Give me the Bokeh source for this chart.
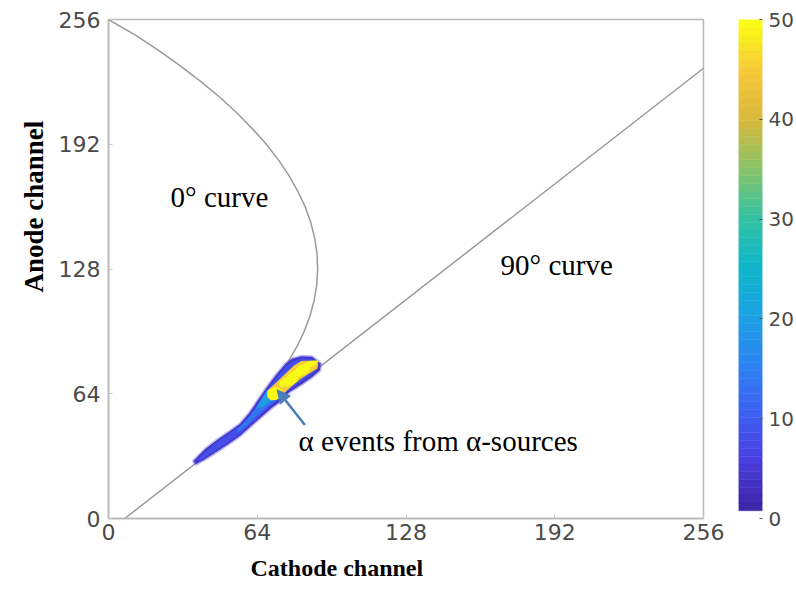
from bokeh.plotting import figure
from bokeh.layouts import row
from bokeh.models import (Range1d, LinearColorMapper, FixedTicker, Arrow, NormalHead,
                          ColumnDataSource, Title)
from bokeh.core.properties import value
from bokeh.embed import file_html
from bokeh.resources import INLINE

# ---------------- data ----------------
x_ticks = [0, 64, 128, 192, 256]
y_ticks = [0, 64, 128, 192, 256]
cbar_ticks = [0, 10, 20, 30, 40, 50]
count_low, count_high = 0, 50

# 0 degree curve (cathode, anode)
curve0_x = [0.0, 11.6, 21.7, 31.2, 39.9, 48.0, 55.3, 61.9, 67.9, 73.1, 77.6, 81.4,
            84.6, 87.0, 88.7, 89.7, 90.0, 89.6, 88.5, 86.7, 84.2, 81.0, 77.1, 72.5]
curve0_y = [256, 248, 240, 232, 224, 216, 208, 200, 192, 184, 176, 168,
            160, 152, 144, 136, 128, 120, 112, 104, 96, 88, 80, 72]

# 90 degree curve
curve90_x = [7.0, 256.0]
curve90_y = [0.0, 231.0]

# 2-D histogram of alpha events: iso-count regions (count level, outline)
outer_x = [36.5, 41.5, 47.0, 52.5, 56.5, 60.5, 64.5, 67.6, 71.9, 76.2, 79.0, 83.0, 87.6, 91.3,
           91.0, 87.5, 83.3, 77.6, 74.5, 70.0, 64.0, 56.8, 51.8, 46.0, 41.0, 37.5]
outer_y = [29.5, 35.5, 40.5, 45.0, 48.5, 54.0, 61.0, 66.5, 73.4, 79.4, 82.0, 83.2, 83.0, 79.5,
           76.0, 72.5, 69.0, 64.6, 60.5, 56.5, 50.3, 42.6, 38.4, 33.8, 30.0, 27.8]
inner_x = [38.5, 42.5, 47.5, 52.8, 57.0, 61.0, 65.0, 68.0, 72.3, 76.5, 79.3, 83.0, 87.3, 90.0,
           89.8, 87.0, 83.0, 77.4, 74.0, 69.8, 64.0, 57.0, 52.0, 46.3, 41.5, 39.0]
inner_y = [30.0, 35.2, 39.9, 44.2, 47.8, 53.3, 60.3, 65.5, 72.3, 78.2, 80.8, 81.9, 81.8, 79.3,
           76.8, 73.6, 70.2, 65.9, 61.8, 57.8, 51.6, 44.0, 39.7, 35.0, 31.3, 29.5]
mid_x = [56.0, 60.5, 64.0, 66.5, 68.5, 71.0, 73.5, 73.5, 69.5, 64.0, 58.5, 55.0]
mid_y = [46.5, 52.0, 57.5, 62.5, 66.0, 67.5, 64.5, 61.5, 58.5, 52.8, 46.5, 44.0]
light_x = [63.5, 66.0, 68.0, 70.0, 71.5, 70.0, 66.0]
light_y = [56.5, 61.5, 65.5, 66.5, 64.0, 60.5, 57.0]
yellow_x = [68.5, 68.3, 70.5, 73.3, 76.5, 79.8, 83.0, 88.0, 90.3,
            89.8, 86.5, 82.5, 78.5, 74.8, 72.5, 70.0]
yellow_y = [62.0, 65.5, 68.0, 71.0, 74.8, 78.5, 80.8, 81.0, 79.3,
            76.8, 74.5, 71.5, 67.5, 63.5, 61.0, 60.5]
region_levels = [4, 8, 14, 20, 45]

# saturated peaks of the alpha sources
peak_x = [85.4, 81.9, 77.5, 71.5]
peak_y = [78.5, 74.7, 70.4, 64.0]
peak_w = [10.5, 10.5, 9.0, 6.5]
peak_h = [3.0, 4.0, 4.6, 6.3]
peak_levels = [50, 50, 50, 50]

# annotations
label_text = ["0\u00b0 curve", "90\u00b0 curve", "\u03b1 events from \u03b1-sources"]
label_x = [26.7, 168.7, 81.8]
label_y = [164.7, 129.8, 40.0]
arrow_start = (84.5, 48.0)
arrow_end = (72.6, 66.0)

# ---------------- colour map (parula-like, white at zero) ----------------
anchors = ["#3e26a8", "#4a40e0", "#3c62f2", "#2b84f2", "#1ca2e2", "#0fb6c8",
           "#35c2a2", "#8ac46a", "#d8b83c", "#f6c83a", "#f9fb14"]


def _hex(c):
    return tuple(int(c[i:i + 2], 16) for i in (1, 3, 5))


palette = ["#ffffff"]
n = 63
for i in range(n):
    t = i / (n - 1) * (len(anchors) - 1)
    k = min(int(t), len(anchors) - 2)
    f = t - k
    a, b = _hex(anchors[k]), _hex(anchors[k + 1])
    palette.append("#%02x%02x%02x" % tuple(round(a[j] + (b[j] - a[j]) * f) for j in range(3)))

mapper = LinearColorMapper(palette=palette, low=count_low, high=count_high)

FRAME = "#b8b8b8"
TICKFONT = "DejaVu Sans"
TICKCOLOR = "#4a4a4a"

# ---------------- main figure ----------------
p = figure(width=727, height=601, x_range=Range1d(0, 256), y_range=Range1d(0, 256),
           output_backend="svg", toolbar_location=None,
           min_border_left=108, min_border_right=24, min_border_top=19, min_border_bottom=83)
p.background_fill_color = "white"
p.border_fill_color = "white"
p.xgrid.visible = False
p.ygrid.visible = False
p.outline_line_color = FRAME
p.outline_line_width = 1.5

for ax in (p.xaxis[0], p.yaxis[0]):
    ax.axis_line_color = FRAME
    ax.axis_line_width = 1.5
    ax.major_tick_line_color = "#c8c8c8"
    ax.major_tick_in = 4
    ax.major_tick_out = 0
    ax.minor_tick_line_color = None
    ax.major_label_text_font = TICKFONT
    ax.major_label_text_font_size = "22px"
    ax.major_label_text_color = TICKCOLOR

p.xaxis.ticker = FixedTicker(ticks=x_ticks)
p.yaxis.ticker = FixedTicker(ticks=y_ticks)
p.xaxis.major_label_standoff = 5
p.yaxis.major_label_standoff = 8

p.add_layout(Title(text="Cathode channel", align="left", offset=142, standoff=21,
                   text_font="Liberation Serif", text_font_style="bold",
                   text_font_size="24px", text_color="black"), "below")
p.add_layout(Title(text="Anode channel", align="left", offset=226, standoff=14,
                   text_font="Liberation Serif", text_font_style="bold",
                   text_font_size="27px", text_color="black"), "left")

# curves
p.line(curve0_x, curve0_y, line_color="#9a9a9a", line_width=1.5)
p.line(curve90_x, curve90_y, line_color="#9a9a9a", line_width=1.5)

# histogram regions
src = ColumnDataSource(dict(xs=[outer_x, inner_x, mid_x, light_x, yellow_x],
                            ys=[outer_y, inner_y, mid_y, light_y, yellow_y],
                            level=region_levels))
p.patch(outer_x, outer_y, fill_color=None, line_color="#8078e8", line_width=3, line_alpha=0.5)
p.patches("xs", "ys", source=src, fill_color={"field": "level", "transform": mapper},
          line_color=None)

psrc = ColumnDataSource(dict(x=peak_x, y=peak_y, w=peak_w, h=peak_h, level=peak_levels))
p.ellipse("x", "y", width="w", height="h", angle=0.35, source=psrc,
          fill_color={"field": "level", "transform": mapper}, line_color=None)

# arrow
p.add_layout(Arrow(end=NormalHead(size=13, fill_color="#4a7ebb", line_color="#4a7ebb"),
                   x_start=arrow_start[0], y_start=arrow_start[1],
                   x_end=arrow_end[0], y_end=arrow_end[1],
                   line_color="#4a7ebb", line_width=2.5))

# text annotations
p.text(label_x, label_y, text=label_text, text_font=value("Liberation Serif"),
       text_font_size="29px", text_color="black", text_baseline="middle", text_align="left")

# ---------------- colour bar (separate narrow figure) ----------------
cb = figure(width=69, height=601, x_range=Range1d(0, 1),
            y_range=Range1d(count_low, count_high), y_axis_location="right",
            output_backend="svg", toolbar_location=None,
            min_border_left=11, min_border_right=34, min_border_top=19, min_border_bottom=83)
cb.xaxis.visible = False
cb.xgrid.visible = False
cb.ygrid.visible = False
cb.outline_line_color = None
cb.background_fill_color = "white"
cb.border_fill_color = "white"
step = (count_high - count_low) / len(palette)
bottoms = [count_low + i * step for i in range(len(palette))]
tops = [b + step for b in bottoms]
cb.quad(left=0, right=1, bottom=bottoms, top=tops, fill_color=palette, line_color=palette,
        line_width=0.5)
cb.yaxis.ticker = FixedTicker(ticks=cbar_ticks)
cb.yaxis.axis_line_color = None
cb.yaxis.major_tick_in = 3
cb.yaxis.major_tick_out = 0
cb.yaxis.major_tick_line_color = "#555555"
cb.yaxis.minor_tick_line_color = None
cb.yaxis.major_label_standoff = 6
cb.yaxis.major_label_text_font = TICKFONT
cb.yaxis.major_label_text_font_size = "20px"
cb.yaxis.major_label_text_color = TICKCOLOR

layout = row(p, cb)
open("out.html", "w").write(file_html(layout, INLINE))
